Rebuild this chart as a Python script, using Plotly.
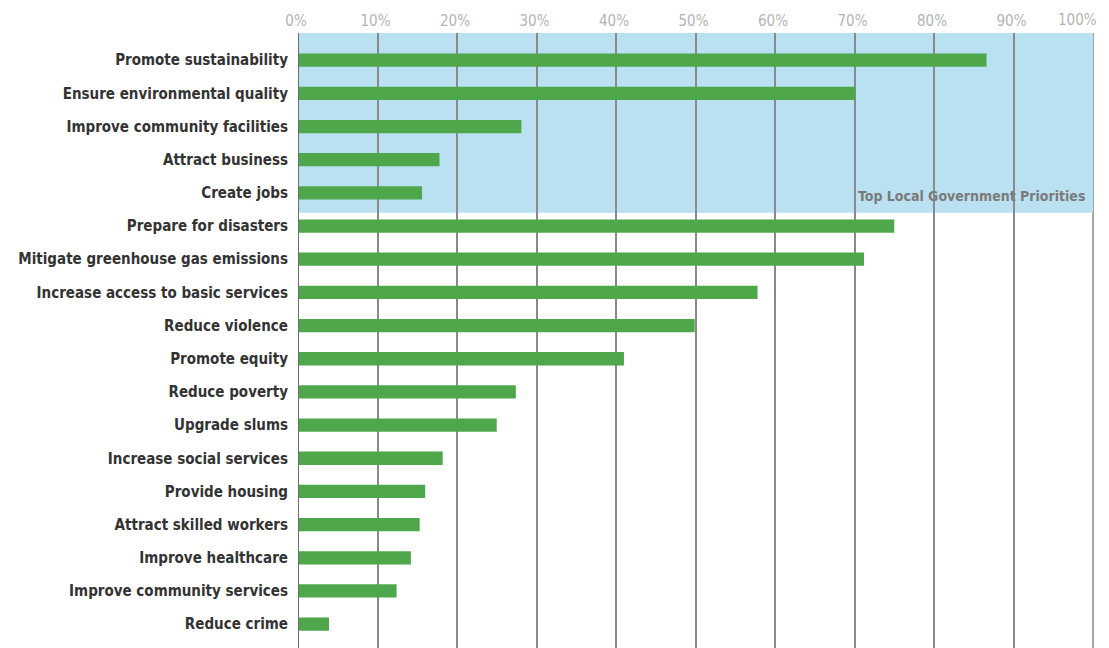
import plotly.graph_objects as go

categories = [
    "Promote sustainability",
    "Ensure environmental quality",
    "Improve community facilities",
    "Attract business",
    "Create jobs",
    "Prepare for disasters",
    "Mitigate greenhouse gas emissions",
    "Increase access to basic services",
    "Reduce violence",
    "Promote equity",
    "Reduce poverty",
    "Upgrade slums",
    "Increase social services",
    "Provide housing",
    "Attract skilled workers",
    "Improve healthcare",
    "Improve community services",
    "Reduce crime",
]
values = [86.6, 70.1, 28.1, 17.8, 15.6, 75.0, 71.2, 57.8, 49.9, 41.0,
          27.4, 25.0, 18.2, 16.0, 15.3, 14.2, 12.4, 3.9]
tick_vals = [0, 10, 20, 30, 40, 50, 60, 70, 80, 90, 100]
tick_text = [f"{v}%" for v in tick_vals]
highlight_label = "Top Local Government Priorities"

FONT = "DejaVu Sans Condensed, Liberation Sans Narrow, Arial Narrow, sans-serif"
TICKFONT = dict(family=FONT, size=15, color="#b4b4b4")

fig = go.Figure()
fig.add_trace(go.Bar(
    x=values, y=categories, orientation="h",
    marker=dict(color="#4ea84b", line=dict(width=0)),
    width=0.4, hoverinfo="x+y",
))

# highlighted region (top local government priorities)
fig.add_shape(type="rect", xref="x", yref="y", x0=0, x1=100, y0=-0.82, y1=4.6,
              fillcolor="#b9e1f1", line=dict(width=0), layer="below")
fig.add_annotation(x=99.3, y=4.1, xref="x", yref="y", text=highlight_label,
                   showarrow=False, xanchor="right", yanchor="middle",
                   font=dict(family=FONT, size=14, color="#7a7a7a", weight="bold"))

# last tick label placed so it stays inside the page edge
fig.add_annotation(x=tick_vals[-1], y=1, xref="x", yref="paper", text=tick_text[-1],
                   showarrow=False, xanchor="right", yanchor="bottom",
                   xshift=6, yshift=2, font=TICKFONT)

fig.update_layout(
    width=1101, height=640,
    margin=dict(l=290, r=14, t=25, b=0, autoexpand=False),
    paper_bgcolor="white", plot_bgcolor="white",
    showlegend=False,
    bargap=0.6,
    xaxis=dict(
        side="top", range=[0, 100.25], tickvals=tick_vals[:-1], ticktext=tick_text[:-1],
        showgrid=True, gridcolor="#8a8a8a", gridwidth=1.5,
        zeroline=False, showline=False, automargin=False,
        tickfont=TICKFONT,
        ticks="", ticklabelstandoff=3, ticklabelshift=-2,
        fixedrange=True,
    ),
    yaxis=dict(
        categoryorder="array", categoryarray=categories,
        range=[17.72, -0.82], showgrid=False, zeroline=False, automargin=False,
        tickfont=dict(family=FONT, size=15, color="#333333", weight="bold"),
        ticks="outside", ticklen=6, tickcolor="rgba(0,0,0,0)",
        showline=False,
    ),
    font=dict(family=FONT),
)
fig.add_shape(type="line", xref="x", yref="paper", x0=100, x1=100, y0=0, y1=1,
              line=dict(color="#8a8a8a", width=1.5), layer="below")
fig.add_shape(type="line", xref="x", yref="paper", x0=0, x1=0, y0=0, y1=1,
              line=dict(color="#6e6e6e", width=2), layer="above")

fig.write_html("out.html")
